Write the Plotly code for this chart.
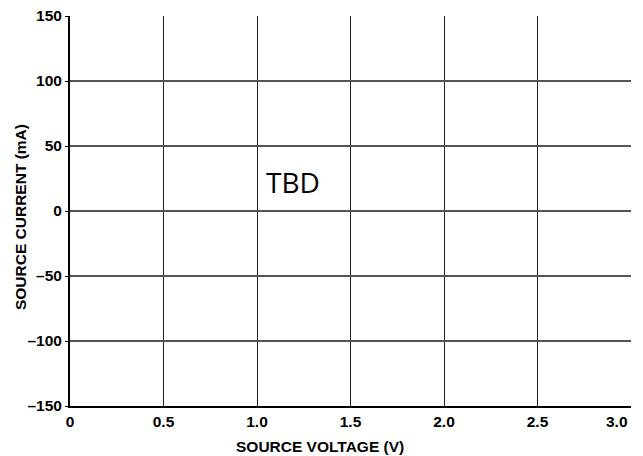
import plotly.graph_objects as go

# Axis ticks (no measured data yet: chart is "TBD")
x_ticks = [0, 0.5, 1.0, 1.5, 2.0, 2.5, 3.0]
x_labels = ["0", "0.5", "1.0", "1.5", "2.0", "2.5", "3.0"]
y_ticks = [-150, -100, -50, 0, 50, 100, 150]
y_labels = ["–150", "–100", "–50", "0", "50", "100", "150"]
voltage = []
current = []

tick_font = dict(family="Liberation Sans, Arial, sans-serif", size=15.5, color="black", weight="bold")
title_font = dict(family="Liberation Sans, Arial, sans-serif", size=15.5, color="black", weight="bold")

fig = go.Figure()
fig.add_trace(go.Scatter(x=voltage, y=current, mode="lines", showlegend=False))

fig.add_annotation(x=1.19, y=22, text="TBD", showarrow=False,
                   font=dict(family="Open Sans, sans-serif", size=28, color="black"))

# last x label sits flush with the right end of the axis
fig.add_annotation(x=x_ticks[-1], xref="x", yref="paper", y=-0.0385, text=x_labels[-1],
                   showarrow=False, xanchor="right", yanchor="middle", xshift=-1, font=tick_font)

# axis titles (placed as in the original, slightly off-centre)
fig.add_annotation(xref="paper", yref="paper", x=0.446, y=-0.1026, text="SOURCE VOLTAGE (V)",
                   showarrow=False, xanchor="center", yanchor="middle", font=title_font)
fig.add_annotation(xref="paper", yref="paper", x=-0.0891, y=0.4846, text="SOURCE CURRENT (mA)",
                   showarrow=False, textangle=-90, xanchor="center", yanchor="middle", font=title_font)

# page body has an 8px margin, so the figure is sized/offset to compensate
fig.update_layout(
    width=635, height=448,
    margin=dict(l=62, r=12, t=8, b=50),
    plot_bgcolor="white", paper_bgcolor="white",
    xaxis=dict(range=[0, 3.0], tickvals=x_ticks, ticktext=x_labels[:-1] + [""], tickfont=tick_font,
               showgrid=True, gridcolor="#222", gridwidth=1,
               showline=True, linecolor="black", linewidth=2,
               ticks="", zeroline=False,
               automargin=False, ticklabeloverflow="allow"),
    yaxis=dict(range=[-150, 150], tickvals=y_ticks, ticktext=y_labels, tickfont=tick_font,
               showgrid=True, gridcolor="#555", gridwidth=1.5,
               showline=True, linecolor="black", linewidth=2,
               ticks="outside", ticklen=3, tickcolor="black", zeroline=False,
               automargin=False, ticklabeloverflow="allow"),
)

fig.write_html("out.html")
